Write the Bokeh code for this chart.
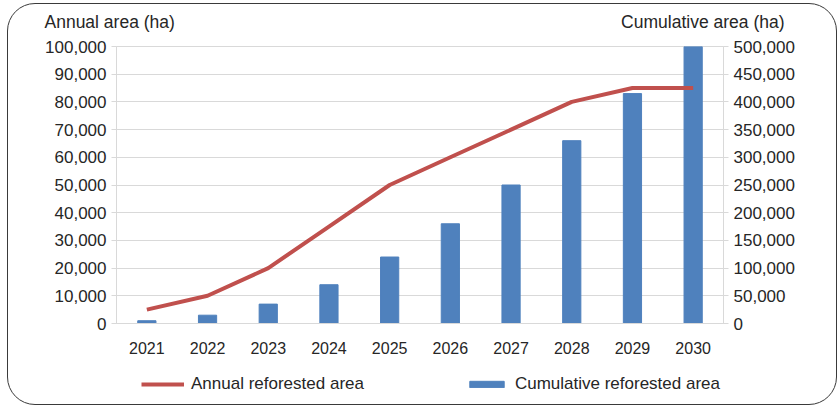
from bokeh.plotting import figure
from bokeh.layouts import column
from bokeh.models import (Range1d, LinearAxis, FixedTicker, NumeralTickFormatter, Legend,
                          LegendItem, Label, ColumnDataSource, FactorRange)
from bokeh.embed import file_html
from bokeh.resources import INLINE

years = ["2021", "2022", "2023", "2024", "2025", "2026", "2027", "2028", "2029", "2030"]
annual = [5000, 10000, 20000, 35000, 50000, 60000, 70000, 80000, 85000, 85000]
cumulative = [5000, 15000, 35000, 70000, 120000, 180000, 250000, 330000, 415000, 500000]
left_ticks = [0, 10000, 20000, 30000, 40000, 50000, 60000, 70000, 80000, 90000, 100000]
right_ticks = [0, 50000, 100000, 150000, 200000, 250000, 300000, 350000, 400000, 450000, 500000]
left_title = "Annual area (ha)"
right_title = "Cumulative area (ha)"
line_label = "Annual reforested area"
bar_label = "Cumulative reforested area"

FONT = "Liberation Sans"
TXT = "#262626"
GRID = "#d9d9d9"
BLUE = "#4f81bd"
RED = "#c0504d"
W = 828


def blank(h):
    f = figure(width=W, height=h, x_range=Range1d(0, W), y_range=Range1d(0, h),
               output_backend="svg", toolbar_location=None, x_axis_type=None, y_axis_type=None,
               min_border=0)
    f.outline_line_color = None
    f.border_fill_color = None
    f.background_fill_color = None
    f.grid.visible = False
    f.frame_align = False
    return f


# header with the two axis titles
head = blank(32)
head.add_layout(Label(x=36, y=14.5, text=left_title, text_baseline="middle", text_align="left",
                      text_font=FONT, text_font_size="17.5px", text_color=TXT))
head.add_layout(Label(x=776, y=14.5, text=right_title, text_baseline="middle", text_align="right",
                      text_font=FONT, text_font_size="17.5px", text_color=TXT))

# main chart
src = ColumnDataSource(dict(year=years, annual=annual, cum=cumulative))
p = figure(x_range=FactorRange(*years), y_range=Range1d(0, 100000),
           width=W, height=329, output_backend="svg", toolbar_location=None,
           min_border_left=108, min_border_right=113, min_border_top=10, min_border_bottom=42)
p.frame_align = False
p.extra_y_ranges = {"cum": Range1d(0, 500000)}
p.border_fill_color = None
p.outline_line_color = GRID

bars = p.vbar(x="year", top="cum", width=0.3, source=src, y_range_name="cum",
              fill_color=BLUE, line_color=BLUE)
line = p.line(x="year", y="annual", source=src, line_width=4, line_color=RED)

yl = p.yaxis[0]
yl.ticker = FixedTicker(ticks=left_ticks)
yr = LinearAxis(y_range_name="cum", ticker=FixedTicker(ticks=right_ticks))
p.add_layout(yr, "right")
for ax in (yl, yr):
    ax.formatter = NumeralTickFormatter(format="0,0")
    ax.major_tick_out = 5
    ax.major_tick_in = 0
    ax.minor_tick_line_color = None
    ax.major_label_standoff = 5
    ax.major_label_text_font_size = "17px"
for ax in (yl, yr, p.xaxis[0]):
    ax.axis_line_color = GRID
    ax.major_tick_line_color = GRID
    ax.major_label_text_font = FONT
    ax.major_label_text_color = TXT
p.xaxis[0].major_label_text_font_size = "16px"
p.xaxis[0].major_tick_line_color = None
p.xaxis[0].major_label_standoff = 12

p.xgrid.grid_line_color = None
p.ygrid.grid_line_color = GRID

# footer with the legend (swatch renderers lie outside the visible range)
foot = blank(39)
lg_line = foot.line(x=[-100, -90], y=[-100, -100], line_width=4, line_color=RED)
lg_bar = foot.vbar(x=[-100], top=[-90], bottom=-100, width=1, fill_color=BLUE, line_color=BLUE)
legend = Legend(items=[LegendItem(label=line_label, renderers=[lg_line]),
                       LegendItem(label=bar_label, renderers=[lg_bar])],
                orientation="horizontal", location=(133, 10),
                glyph_width=43, glyph_height=8, spacing=101, label_standoff=7,
                label_text_font=FONT, label_text_font_size="17px", label_text_color=TXT,
                border_line_color=None, background_fill_color=None, padding=0, margin=0)
foot.add_layout(legend, "center")

layout = column(head, p, foot, spacing=0)
layout.styles = {"border": "1.3px solid #3a3a3a", "border-radius": "28px",
                 "margin-left": "7px", "margin-top": "3px"}

open("out.html", "w").write(file_html(layout, INLINE))
